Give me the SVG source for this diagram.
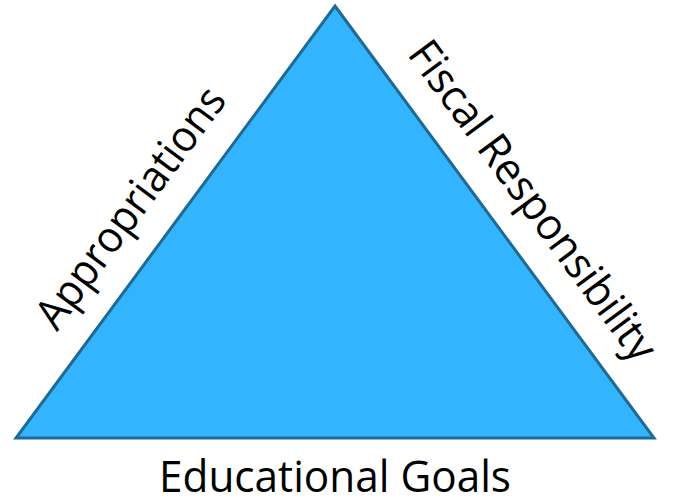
<svg xmlns="http://www.w3.org/2000/svg" width="673" height="497" viewBox="0 0 673 497">
  <style>
    .lbl { font-family: "Open Sans", "Noto Sans", sans-serif; font-size: 43.5px; fill: #000000; }
    .tri { fill: #33B4FF; stroke: #1D6A96; stroke-width: 3; stroke-linejoin: miter; }
  </style>
  <rect x="0" y="0" width="673" height="497" fill="#FFFFFF"/>
  <g id="triangle">
    <polygon class="tri" points="335,6 654,438 16,438"/>
  </g>
  <g id="label-appropriations">
    <text class="lbl" text-anchor="middle" textLength="288" lengthAdjust="spacingAndGlyphs" transform="translate(142.4,216.4) rotate(-53.6)">Appropriations</text>
  </g>
  <g id="label-fiscal">
    <text class="lbl" text-anchor="middle" textLength="386" lengthAdjust="spacingAndGlyphs" transform="translate(521,209.6) rotate(53.6)">Fiscal Responsibility</text>
  </g>
  <g id="label-educational">
    <text class="lbl" x="335" y="492" text-anchor="middle" textLength="352" lengthAdjust="spacingAndGlyphs">Educational Goals</text>
  </g>
</svg>
